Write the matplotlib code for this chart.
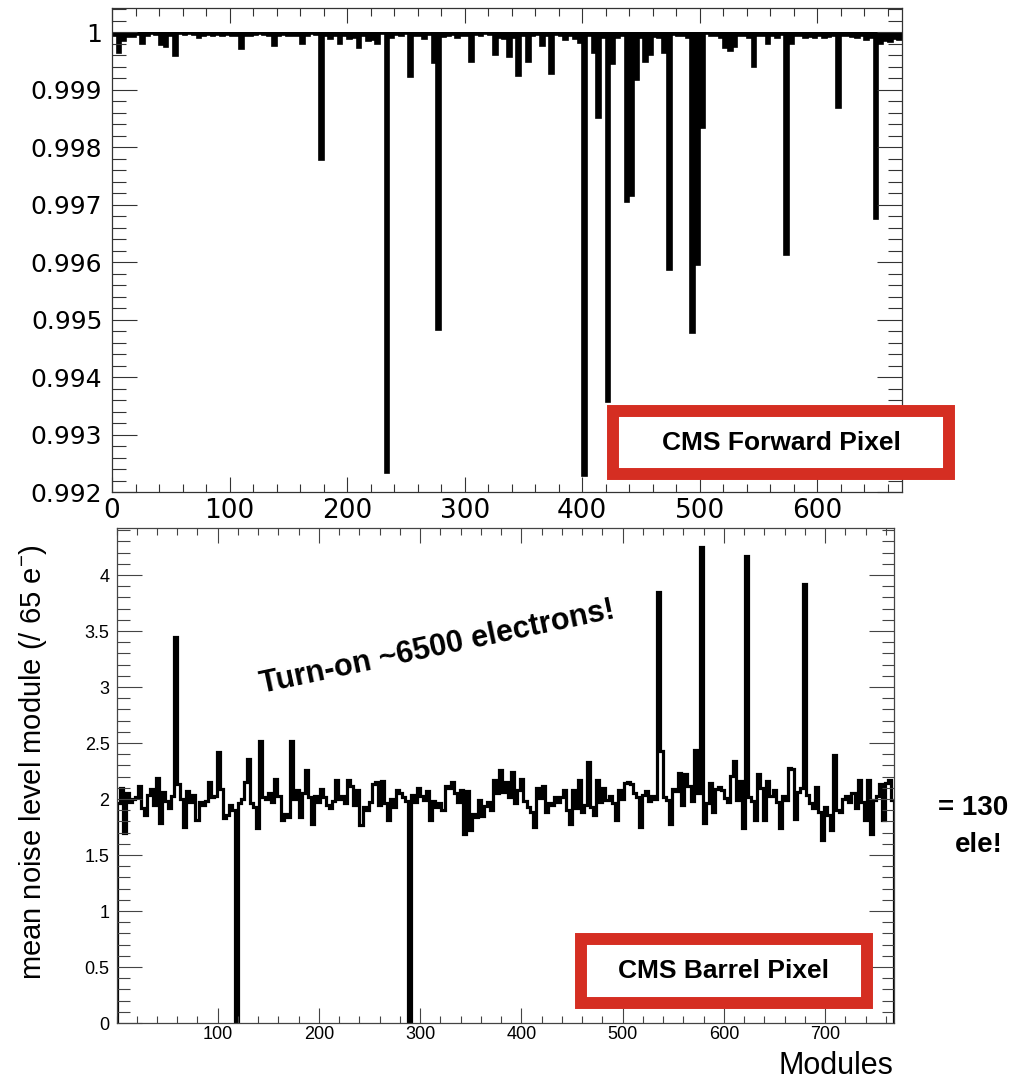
import numpy as np
import matplotlib
matplotlib.use("Agg")
import matplotlib.pyplot as plt
from matplotlib.patches import Rectangle
from matplotlib.ticker import MultipleLocator

plt.rcParams['font.family'] = ['Liberation Sans', 'DejaVu Sans']
plt.rcParams['mathtext.fontset'] = 'custom'
plt.rcParams['mathtext.rm'] = 'Liberation Sans'

# forward pixel: fraction per group of 4 modules (672 modules)
fpix_bin_width = 4
fpix_values = [
    0.99994, 0.99963, 0.99985, 0.99992, 0.99991, 0.99995, 0.99980, 0.99994, 0.99996, 0.99995, 0.99977, 0.99974,
    0.99993, 0.99958, 0.99996, 0.99995, 0.99996, 0.99995, 0.99990, 0.99994, 0.99995, 0.99994, 0.99995, 0.99993,
    0.99995, 0.99994, 0.99993, 0.99970, 0.99994, 0.99993, 0.99995, 0.99996, 0.99995, 0.99993, 0.99976, 0.99994,
    0.99995, 0.99994, 0.99993, 0.99994, 0.99980, 0.99994, 0.99996, 0.99995, 0.99777, 0.99993, 0.99988, 0.99993,
    0.99980, 0.99993, 0.99988, 0.99989, 0.99972, 0.99994, 0.99985, 0.99986, 0.99980, 0.99996, 0.99233, 0.99990,
    0.99995, 0.99994, 0.99996, 0.99922, 0.99994, 0.99993, 0.99988, 0.99995, 0.99946, 0.99482, 0.99992, 0.99994,
    0.99995, 0.99990, 0.99994, 0.99993, 0.99948, 0.99995, 0.99993, 0.99996, 0.99995, 0.99960, 0.99990, 0.99988,
    0.99957, 0.99990, 0.99923, 0.99994, 0.99948, 0.99993, 0.99995, 0.99976, 0.99994, 0.99927, 0.99995, 0.99994,
    0.99986, 0.99993, 0.99988, 0.99981, 0.99228, 0.99994, 0.99963, 0.99850, 0.99990, 0.99357, 0.99945, 0.99990,
    0.99994, 0.99705, 0.99715, 0.99917, 0.99990, 0.99948, 0.99960, 0.99992, 0.99990, 0.99963, 0.99586, 0.99995,
    0.99994, 0.99993, 0.99990, 0.99477, 0.99595, 0.99833, 0.99996, 0.99994, 0.99993, 0.99990, 0.99972, 0.99968,
    0.99974, 0.99993, 0.99994, 0.99990, 0.99939, 0.99994, 0.99993, 0.99980, 0.99994, 0.99990, 0.99995, 0.99612,
    0.99980, 0.99994, 0.99993, 0.99990, 0.99992, 0.99990, 0.99993, 0.99989, 0.99992, 0.99994, 0.99868, 0.99993,
    0.99994, 0.99992, 0.99990, 0.99993, 0.99986, 0.99990, 0.99675, 0.99980, 0.99984, 0.99982, 0.99988, 0.99986,
]
fpix_yticks = [0.992, 0.993, 0.994, 0.995, 0.996, 0.997, 0.998, 0.999, 1.0]
fpix_ylabels = ['0.992', '0.993', '0.994', '0.995', '0.996', '0.997', '0.998', '0.999', '1']
fpix_xticks = [0, 100, 200, 300, 400, 500, 600]

# barrel pixel: mean noise per group of 3 modules (768 modules)
bpix_bin_width = 3
bpix_values = [
    1.96, 2.10, 1.70, 2.05, 1.97, 2.00, 2.02, 2.12, 1.92, 1.86, 2.04, 2.09, 1.95, 2.19, 1.79, 2.06,
    1.98, 1.92, 2.03, 3.45, 2.13, 2.00, 1.75, 2.07, 1.97, 2.04, 1.81, 1.97, 1.95, 1.98, 2.15, 2.02,
    2.03, 2.42, 2.09, 1.83, 1.86, 1.95, 1.90, 0.00, 1.96, 2.00, 2.15, 2.36, 1.96, 1.93, 1.74, 2.52,
    2.02, 2.00, 2.05, 1.97, 2.18, 2.03, 1.81, 1.87, 1.84, 2.52, 2.00, 2.08, 1.84, 2.05, 2.26, 2.02,
    1.78, 2.03, 1.97, 2.09, 2.02, 1.95, 1.92, 1.98, 2.17, 2.00, 2.03, 1.96, 2.17, 2.12, 1.95, 2.08,
    1.77, 1.93, 1.90, 1.97, 2.13, 2.15, 1.95, 2.16, 1.96, 1.81, 2.00, 1.93, 2.08, 2.05, 2.02, 1.98,
    0.00, 2.04, 1.97, 2.10, 2.03, 1.99, 2.07, 1.81, 1.98, 1.93, 1.96, 1.90, 2.12, 2.10, 2.15, 2.05,
    1.97, 2.08, 1.69, 2.07, 1.72, 1.87, 1.84, 1.99, 1.85, 1.94, 1.97, 1.90, 2.17, 2.05, 2.26, 2.06,
    2.15, 2.02, 2.24, 1.96, 2.08, 2.18, 1.98, 1.93, 1.88, 1.75, 2.10, 2.01, 2.12, 1.88, 1.96, 1.95,
    2.02, 1.97, 2.02, 2.08, 1.90, 1.78, 2.08, 1.92, 2.17, 1.88, 1.95, 2.33, 1.93, 1.86, 2.17, 1.97,
    2.10, 1.99, 2.03, 1.96, 1.81, 2.08, 2.00, 2.14, 2.15, 2.13, 2.05, 2.02, 1.75, 2.04, 2.07, 1.98,
    2.03, 2.00, 3.85, 2.43, 2.02, 1.99, 1.78, 2.09, 2.07, 2.23, 1.95, 2.22, 2.12, 1.98, 2.44, 2.05,
    4.25, 1.79, 1.96, 2.14, 1.88, 2.09, 2.11, 2.08, 2.01, 1.97, 2.21, 2.34, 1.99, 2.16, 1.74, 4.17,
    2.02, 1.98, 1.81, 2.22, 2.10, 1.81, 2.16, 2.03, 2.08, 1.97, 1.74, 2.03, 1.99, 2.28, 2.27, 1.82,
    2.06, 2.10, 3.92, 2.04, 1.96, 1.92, 2.11, 1.88, 1.63, 1.93, 1.86, 1.72, 2.39, 1.90, 1.88, 2.00,
    2.03, 1.97, 2.05, 1.92, 2.17, 1.97, 1.81, 2.17, 1.69, 1.99, 2.03, 2.13, 1.81, 2.14, 2.17, 1.99,
]
bpix_xticks = [100, 200, 300, 400, 500, 600, 700]
bpix_yticks = [0, 0.5, 1, 1.5, 2, 2.5, 3, 3.5, 4]
bpix_ylabels = ['0', '0.5', '1', '1.5', '2', '2.5', '3', '3.5', '4']

RED = '#d52e22'
W, H = 1026, 1082

fig = plt.figure(figsize=(W / 100, H / 100), dpi=100)


def px_rect(x0, y0, x1, y1):
    # pixel box (top-left origin) -> figure fraction rect
    return [x0 / W, 1 - y1 / H, (x1 - x0) / W, (y1 - y0) / H]


# ---- top panel: forward pixel ----
ax1 = fig.add_axes(px_rect(112, 8, 902, 492))
edges1 = np.arange(len(fpix_values) + 1) * fpix_bin_width
ax1.stairs(fpix_values, edges1, baseline=1.0, fill=True, facecolor='black',
           edgecolor='black', lw=1.2)
ax1.set_xlim(0, 672)
ax1.set_ylim(0.992, 1.00042)
ax1.set_xticks(fpix_xticks)
ax1.set_xticklabels([str(t) for t in fpix_xticks], fontsize=19, family='DejaVu Sans')
ax1.set_yticks(fpix_yticks)
ax1.set_yticklabels(fpix_ylabels, fontsize=18, family='DejaVu Sans')
ax1.xaxis.set_minor_locator(MultipleLocator(20))
ax1.yaxis.set_minor_locator(MultipleLocator(0.0002))
ax1.tick_params(which='both', direction='in', top=True, right=True, color='#333333', width=0.8)
ax1.tick_params(axis='x', which='major', length=11, pad=4)
ax1.tick_params(axis='x', which='minor', length=6)
ax1.tick_params(axis='y', which='major', length=18, pad=7)
ax1.tick_params(axis='y', which='minor', length=10)
for s in ax1.spines.values():
    s.set_linewidth(0.9)
    s.set_color('#333333')

# ---- bottom panel: barrel pixel ----
ax2 = fig.add_axes(px_rect(116.5, 528, 894, 1023))
edges2 = np.arange(len(bpix_values) + 1) * bpix_bin_width
ax2.stairs(bpix_values, edges2, color='black', lw=2.3)
ax2.set_xlim(0, 768)
ax2.set_ylim(0, 4.42)
ax2.set_xticks(bpix_xticks)
ax2.set_xticklabels([str(t) for t in bpix_xticks], fontsize=13)
ax2.set_yticks(bpix_yticks)
ax2.set_yticklabels(bpix_ylabels, fontsize=13)
ax2.xaxis.set_minor_locator(MultipleLocator(20))
ax2.yaxis.set_minor_locator(MultipleLocator(0.1))
ax2.tick_params(which='both', direction='in', top=True, right=True, color='#444444', width=0.8)
ax2.tick_params(axis='x', which='major', length=11, pad=2)
ax2.tick_params(axis='x', which='minor', length=5)
ax2.tick_params(axis='y', which='major', length=18, pad=5)
ax2.tick_params(axis='y', which='minor', length=9)
for s in ax2.spines.values():
    s.set_linewidth(0.9)
    s.set_color('#444444')

fig.text(33 / W, 1 - 762 / H, 'mean noise level module (/ 65 e$^{-}$)',
         rotation=90, ha='center', va='center', fontsize=21)
fig.text(893 / W, 1 - 1066 / H, 'Modules', ha='right', va='center', fontsize=22)

# annotations
fig.text(437 / W, 1 - 648 / H, 'Turn-on ~6500 electrons!', rotation=12,
         ha='center', va='center', fontsize=22, fontweight='bold')
fig.text(1008 / W, 1 - 808 / H, '= 130', ha='right', va='center', fontsize=20, fontweight='bold')
fig.text(1003 / W, 1 - 845 / H, 'ele!', ha='right', va='center', fontsize=20, fontweight='bold')

# red label boxes
for (x0, y0, x1, y1), label in [((613, 411, 949, 474), 'CMS Forward Pixel'),
                                ((581, 939, 867, 1003), 'CMS Barrel Pixel')]:
    r = Rectangle((x0 / W, 1 - y1 / H), (x1 - x0) / W, (y1 - y0) / H,
                  transform=fig.transFigure, facecolor='white', edgecolor=RED,
                  linewidth=8.6, joinstyle='miter')
    fig.add_artist(r)
    fig.text((x0 + x1) / 2 / W, 1 - (y0 + y1) / 2 / H, label, ha='center', va='center',
             fontsize=19, fontweight='bold')

fig.savefig('out.png', dpi=100)
